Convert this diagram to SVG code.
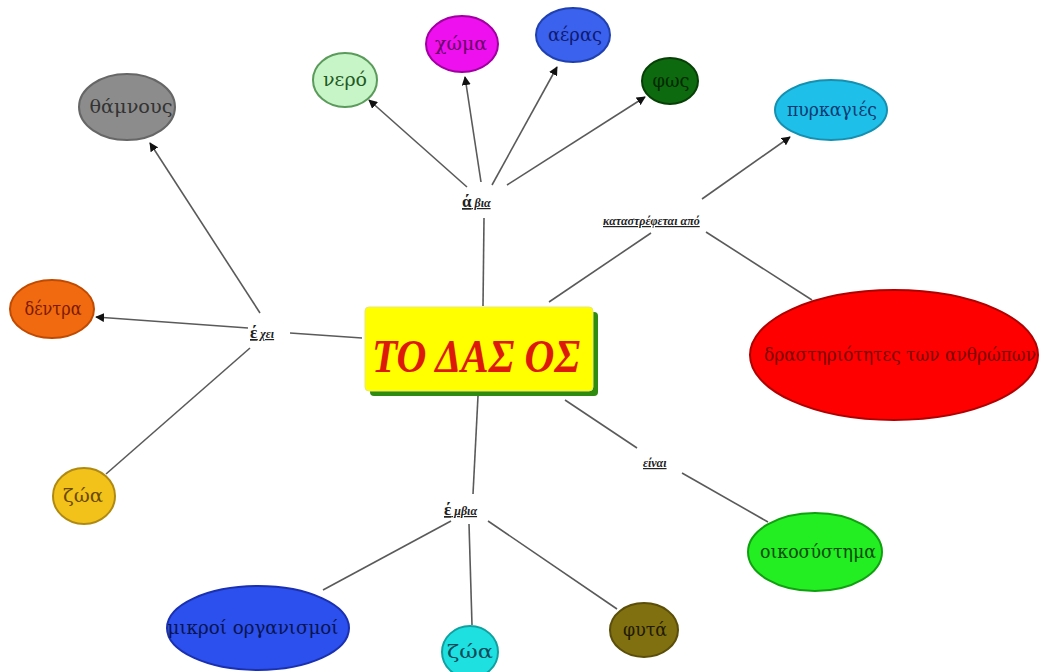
<svg xmlns="http://www.w3.org/2000/svg" width="1039" height="672" viewBox="0 0 1039 672">
<defs>
<marker id="arr" viewBox="0 0 10 10" refX="9" refY="5" markerWidth="9" markerHeight="9" markerUnits="userSpaceOnUse" orient="auto">
<path d="M0,0 L10,5 L0,10 z" fill="#111"/>
</marker>
<style>
.c{stroke:#5a5a5a;stroke-width:1.6;fill:none}
.a{marker-end:url(#arr)}
.lbl{font-family:'Liberation Serif','DejaVu Serif',serif;font-style:italic;font-weight:bold;font-size:12px;fill:#222;text-decoration:underline}
.big{font-size:17px;font-style:normal}
</style>
</defs>
<rect width="1039" height="672" fill="#ffffff"/>
<g id="connectors">
<line class="c" x1="483" y1="306" x2="484" y2="218"/>
<line class="c a" x1="467" y1="187" x2="369" y2="100"/>
<line class="c a" x1="481" y1="182" x2="465" y2="77"/>
<line class="c a" x1="492" y1="185" x2="557" y2="67"/>
<line class="c a" x1="507" y1="185" x2="645" y2="97"/>
<line class="c" x1="549" y1="302" x2="651" y2="233"/>
<line class="c a" x1="702" y1="199" x2="790" y2="137"/>
<line class="c" x1="706" y1="232" x2="812" y2="300"/>
<line class="c" x1="290" y1="333" x2="362" y2="338"/>
<line class="c a" x1="248" y1="328" x2="96" y2="317"/>
<line class="c a" x1="260" y1="313" x2="150" y2="143"/>
<line class="c" x1="250" y1="348" x2="106" y2="474"/>
<line class="c" x1="478" y1="396" x2="473" y2="494"/>
<line class="c" x1="451" y1="521" x2="323" y2="590"/>
<line class="c" x1="469" y1="524" x2="472" y2="625"/>
<line class="c" x1="488" y1="521" x2="617" y2="609"/>
<line class="c" x1="565" y1="400" x2="637" y2="448"/>
<line class="c" x1="682" y1="473" x2="768" y2="522"/>
</g>
<g id="center">
<rect x="370" y="312" width="228" height="84" rx="4" fill="#2f8a10"/>
<rect x="365" y="307" width="228" height="84" rx="4" fill="#ffff00" stroke="#e8e870" stroke-width="1"/>
<text x="372" y="372" font-family="'Liberation Serif',serif" font-style="italic" font-weight="bold" font-size="46" fill="#dd1a0a" textLength="208" lengthAdjust="spacingAndGlyphs">ΤΟ ΔΑΣ ΟΣ</text>
</g>
<g id="label-abia"><text class="lbl" x="462" y="207"><tspan class="big">ά</tspan> βια</text></g>
<g id="label-katastrefetai"><text class="lbl" x="603" y="225">καταστρέφεται από</text></g>
<g id="label-exei"><text class="lbl" x="250" y="338"><tspan class="big">έ</tspan> χει</text></g>
<g id="label-embia"><text class="lbl" x="444" y="515"><tspan class="big">έ</tspan> μβια</text></g>
<g id="label-einai"><text class="lbl" x="643" y="467">είναι</text></g>
<g font-family="'DejaVu Serif Condensed','DejaVu Serif', serif" font-size="18" text-anchor="middle" lengthAdjust="spacingAndGlyphs">
<g id="nero"><ellipse cx="345" cy="80" rx="32" ry="27" fill="#c8f5c8" stroke="#5a9a5a" stroke-width="2"/><text x="345" y="86" fill="#1f5a1f" textLength="44" lengthAdjust="spacingAndGlyphs">νερό</text></g>
<g id="xoma"><ellipse cx="462" cy="44" rx="36" ry="28" fill="#ee10ee" stroke="#a000a0" stroke-width="2"/><text x="461" y="50" fill="#6a006a" textLength="52" lengthAdjust="spacingAndGlyphs">χώμα</text></g>
<g id="aeras"><ellipse cx="573" cy="35" rx="37" ry="27" fill="#3a62ee" stroke="#2040b0" stroke-width="2"/><text x="575" y="41" fill="#101a70" textLength="54" lengthAdjust="spacingAndGlyphs">αέρας</text></g>
<g id="fos"><ellipse cx="670" cy="81" rx="28" ry="23" fill="#0e6a0e" stroke="#064006" stroke-width="2"/><text x="671" y="87" fill="#032803" textLength="37" lengthAdjust="spacingAndGlyphs">φως</text></g>
<g id="pyrkagies"><ellipse cx="831" cy="110" rx="56" ry="30" fill="#1ec0ea" stroke="#1590b0" stroke-width="2"/><text x="832" y="116" fill="#0a3a70" textLength="90" lengthAdjust="spacingAndGlyphs">πυρκαγιές</text></g>
<g id="thamnous"><ellipse cx="127" cy="107" rx="48" ry="33" fill="#8c8c8c" stroke="#666" stroke-width="2"/><text x="131" y="113" fill="#333" textLength="83" lengthAdjust="spacingAndGlyphs">θάμνους</text></g>
<g id="dentra"><ellipse cx="52" cy="309" rx="42" ry="29" fill="#f26a10" stroke="#c04a00" stroke-width="2"/><text x="53" y="315" fill="#7a1a00" textLength="57" lengthAdjust="spacingAndGlyphs">δέντρα</text></g>
<g id="zoa-left"><ellipse cx="84" cy="496" rx="31" ry="28" fill="#f2c21a" stroke="#b08a10" stroke-width="2"/><text x="83" y="502" fill="#6a4a00" textLength="40" lengthAdjust="spacingAndGlyphs">ζώα</text></g>
<g id="mikroi"><ellipse cx="258" cy="628" rx="91" ry="42" fill="#2b50ee" stroke="#1a30b0" stroke-width="2"/><text x="253" y="634" fill="#0a1450" textLength="171" lengthAdjust="spacingAndGlyphs">μικροί οργανισμοί</text></g>
<g id="zoa-bottom"><ellipse cx="470" cy="652" rx="28" ry="26" fill="#1ee0e0" stroke="#10a0a0" stroke-width="2"/><text x="470" y="658" fill="#0a4a5a" textLength="46" lengthAdjust="spacingAndGlyphs">ζώα</text></g>
<g id="fyta"><ellipse cx="644" cy="630" rx="34" ry="27" fill="#807010" stroke="#5a4e08" stroke-width="2"/><text x="645" y="636" fill="#201a00" textLength="44" lengthAdjust="spacingAndGlyphs">φυτά</text></g>
<g id="oikosystima"><ellipse cx="815" cy="552" rx="67" ry="39" fill="#22ee22" stroke="#10a010" stroke-width="2"/><text x="818" y="558" fill="#0a4a0a" textLength="116" lengthAdjust="spacingAndGlyphs">οικοσύστημα</text></g>
<g id="drastiriotites"><ellipse cx="894" cy="355" rx="144" ry="65" fill="#ff0000" stroke="#b00000" stroke-width="2"/><text x="900" y="361" fill="#7a0000" textLength="272" lengthAdjust="spacingAndGlyphs">δραστηριότητες των ανθρώπων</text></g>
</g>
</svg>
